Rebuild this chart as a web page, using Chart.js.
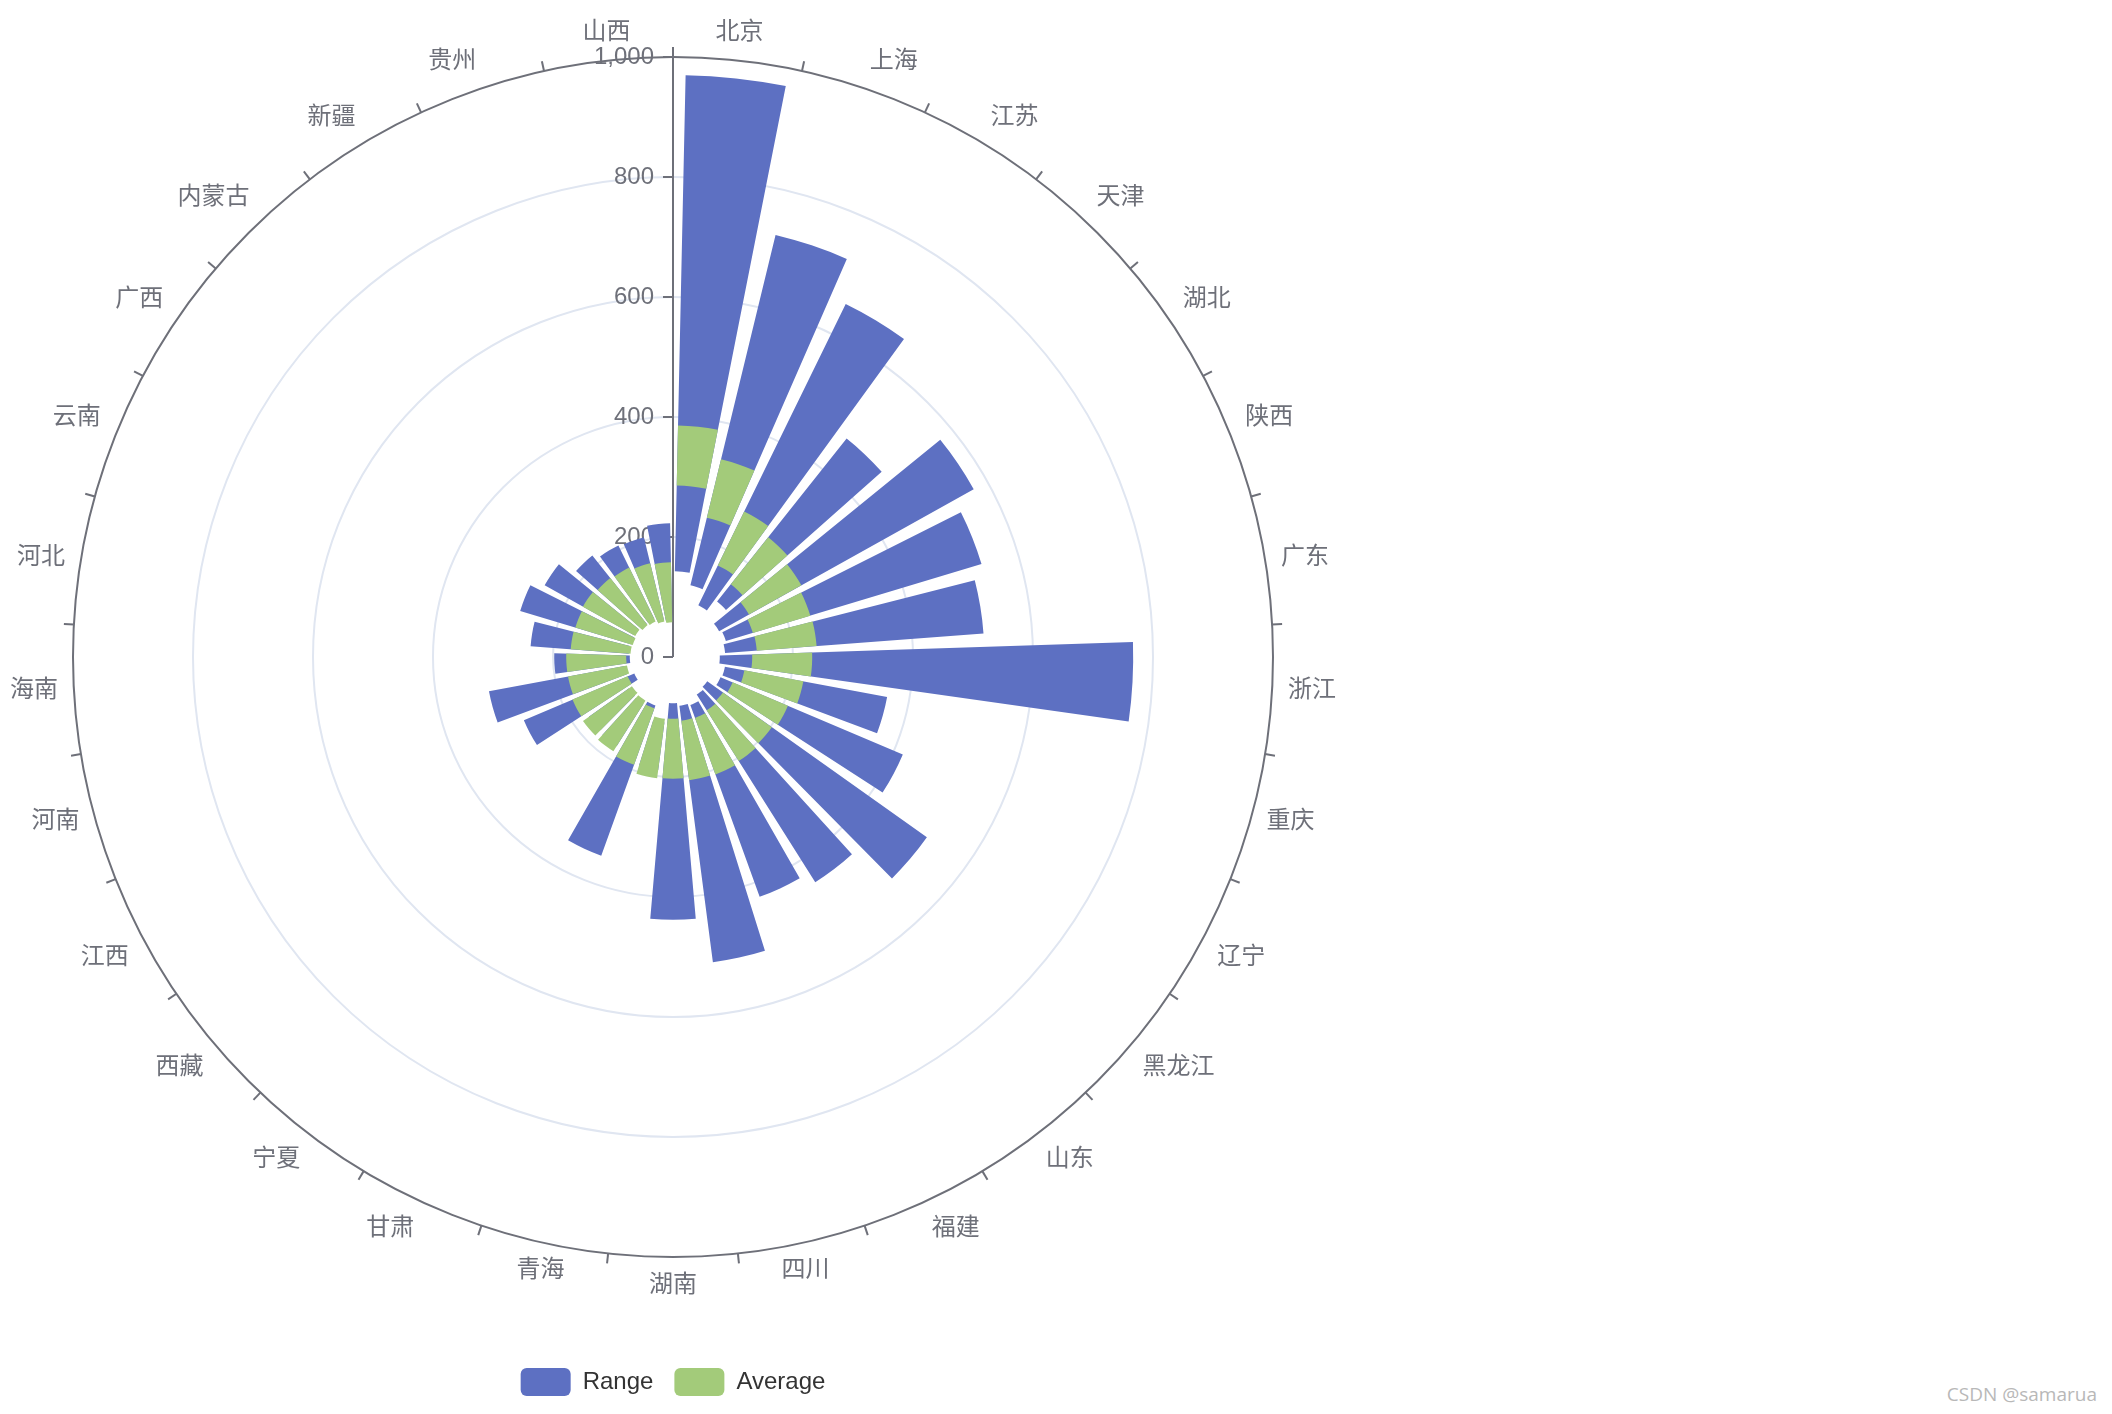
<!DOCTYPE html>
<html>
<head>
<meta charset="utf-8">
<title>Range / Average</title>
<script src="https://cdn.jsdelivr.net/npm/chart.js@4.4.1/dist/chart.umd.min.js"></script>
<style>
  body { margin: 0; background: #fff; }
  #wrap { position: absolute; left: 0; top: 0; width: 1346px; height: 1414px; }
  #mark { position: absolute; right: 15px; bottom: 7px; font: 19px "Open Sans", sans-serif; color: #b8b8b8; }
</style>
</head>
<body>
<div id="wrap"><canvas id="RangeChart"></canvas></div>
<div id="mark">CSDN @samarua</div>
<script>
const provinces = ['北京', '上海', '江苏', '天津', '湖北', '陕西', '广东', '浙江', '重庆', '辽宁',
  '黑龙江', '山东', '福建', '四川', '湖南', '青海', '甘肃', '宁夏', '西藏', '江西',
  '河南', '海南', '河北', '云南', '广西', '内蒙古', '新疆', '贵州', '山西'];
const rangeMin = [143, 123, 96, 118, 88, 92, 87, 78, 88, 86,
  70, 74, 85, 82, 77, 110, 86, 92, 90, 70,
  82, 72, 74, 72, 74, 70, 70, 64, 62];
const rangeMax = [970, 724, 655, 465, 574, 537, 519, 767, 363, 416,
  519, 444, 425, 513, 438, 190, 352, 176, 172, 270,
  312, 198, 238, 266, 245, 216, 207, 205, 223];
const average = [336, 289, 220, 205, 195, 189, 190, 182, 171, 158,
  152, 155, 158, 157, 153, 154, 141, 136, 134, 132,
  128, 128, 121, 120, 122, 118, 116, 111, 108];
const averageBand = 50;
const radiusMax = 1000;
const radiusStep = 200;

const FONT = '"Liberation Sans", "Noto Sans CJK SC", sans-serif';
const axisColor = '#6E7079';
const splitColor = '#E0E6F1';
const blue = '#5d70c2';
const green = '#a3cb7a';

// turns the polar area wedges into floating polar bars and draws the axes the way echarts does
const polarBars = {
  id: 'polarBars',
  afterDatasetsUpdate(chart) {
    const scale = chart.scales.r;
    chart.data.datasets.forEach((ds, di) => {
      chart.getDatasetMeta(di).data.forEach((arc, i) => {
        const gap = (arc.endAngle - arc.startAngle) * 0.1;
        arc.startAngle += gap;
        arc.endAngle -= gap;
        arc.innerRadius = scale.getDistanceFromCenterForValue(ds.from[i]);
      });
    });
  },
  beforeDatasetsDraw(chart) {
    const scale = chart.scales.r;
    const c = chart.ctx;
    const R = scale.drawingArea;
    const n = chart.data.labels.length;
    c.save();
    c.strokeStyle = axisColor;
    c.fillStyle = axisColor;
    c.lineWidth = 2;
    c.font = '24px ' + FONT;

    // radius axis
    c.textAlign = 'right';
    c.textBaseline = 'middle';
    scale.ticks.forEach(t => {
      const y = scale.yCenter - scale.getDistanceFromCenterForValue(t.value);
      c.beginPath();
      c.moveTo(scale.xCenter - 10, y);
      c.lineTo(scale.xCenter, y);
      c.stroke();
      c.fillText(t.label, scale.xCenter - 19, y);
    });

    // angle axis ticks
    for (let k = 0; k < n; k++) {
      const a = scale.getPointPosition(k, R);
      const b = scale.getPointPosition(k, R + 10);
      c.beginPath();
      c.moveTo(a.x, a.y);
      c.lineTo(b.x, b.y);
      c.stroke();
    }

    // angle axis labels
    const r = R + 16;
    chart.data.labels.forEach((lab, i) => {
      const p = scale.getPointPosition(i, r, Math.PI / n);
      const dx = (p.x - scale.xCenter) / r;
      const dy = (p.y - scale.yCenter) / r;
      c.textAlign = Math.abs(dx) < 0.3 ? 'center' : (dx > 0 ? 'left' : 'right');
      c.textBaseline = Math.abs(dy) < 0.3 ? 'middle' : (dy > 0 ? 'top' : 'bottom');
      c.fillText(lab, p.x, p.y);
    });
    c.restore();
  }
};

const ctx = document.getElementById('RangeChart');

new Chart(ctx, {
  type: 'polarArea',
  data: {
    labels: provinces,
    datasets: [{
      label: 'Range',
      data: rangeMax,
      from: rangeMin,
      backgroundColor: blue,
      borderWidth: 0,
      order: 1
    }, {
      label: 'Average',
      data: average.map(v => v + averageBand),
      from: average.map(v => v - averageBand),
      backgroundColor: green,
      borderWidth: 0,
      order: 0
    }]
  },
  options: {
    responsive: true,
    maintainAspectRatio: false,
    animation: false,
    layout: {
      padding: { left: 73, right: 73, top: 57, bottom: 8 }
    },
    scales: {
      r: {
        min: 0,
        max: radiusMax,
        startAngle: 0,
        ticks: { display: false, stepSize: radiusStep },
        pointLabels: { display: false },
        grid: {
          circular: true,
          lineWidth: 2,
          color: c => (c.tick && c.tick.value === radiusMax) ? axisColor : splitColor
        },
        angleLines: {
          display: true,
          color: c => c.index === 0 ? axisColor : 'transparent',
          lineWidth: c => c.index === 0 ? 2 : 0
        }
      }
    },
    plugins: {
      tooltip: { enabled: false },
      legend: {
        position: 'bottom',
        title: { display: true, text: '', padding: { top: 88, bottom: 0 }, font: { size: 1 } },
        labels: {
          boxWidth: 50,
          boxHeight: 28,
          padding: 21,
          color: '#333',
          font: { size: 24, family: FONT },
          useBorderRadius: true,
          borderRadius: 6,
          generateLabels: chart => chart.data.datasets.map((ds, i) => ({
            text: ds.label,
            fillStyle: ds.backgroundColor,
            strokeStyle: ds.backgroundColor,
            fontColor: '#333',
            lineWidth: 0,
            borderRadius: 6,
            hidden: !chart.isDatasetVisible(i),
            datasetIndex: i
          }))
        },
        onClick: (e, item, legend) => {
          const chart = legend.chart;
          chart.setDatasetVisibility(item.datasetIndex, !chart.isDatasetVisible(item.datasetIndex));
          chart.update();
        }
      }
    }
  },
  plugins: [polarBars]
});
</script>
</body>
</html>
